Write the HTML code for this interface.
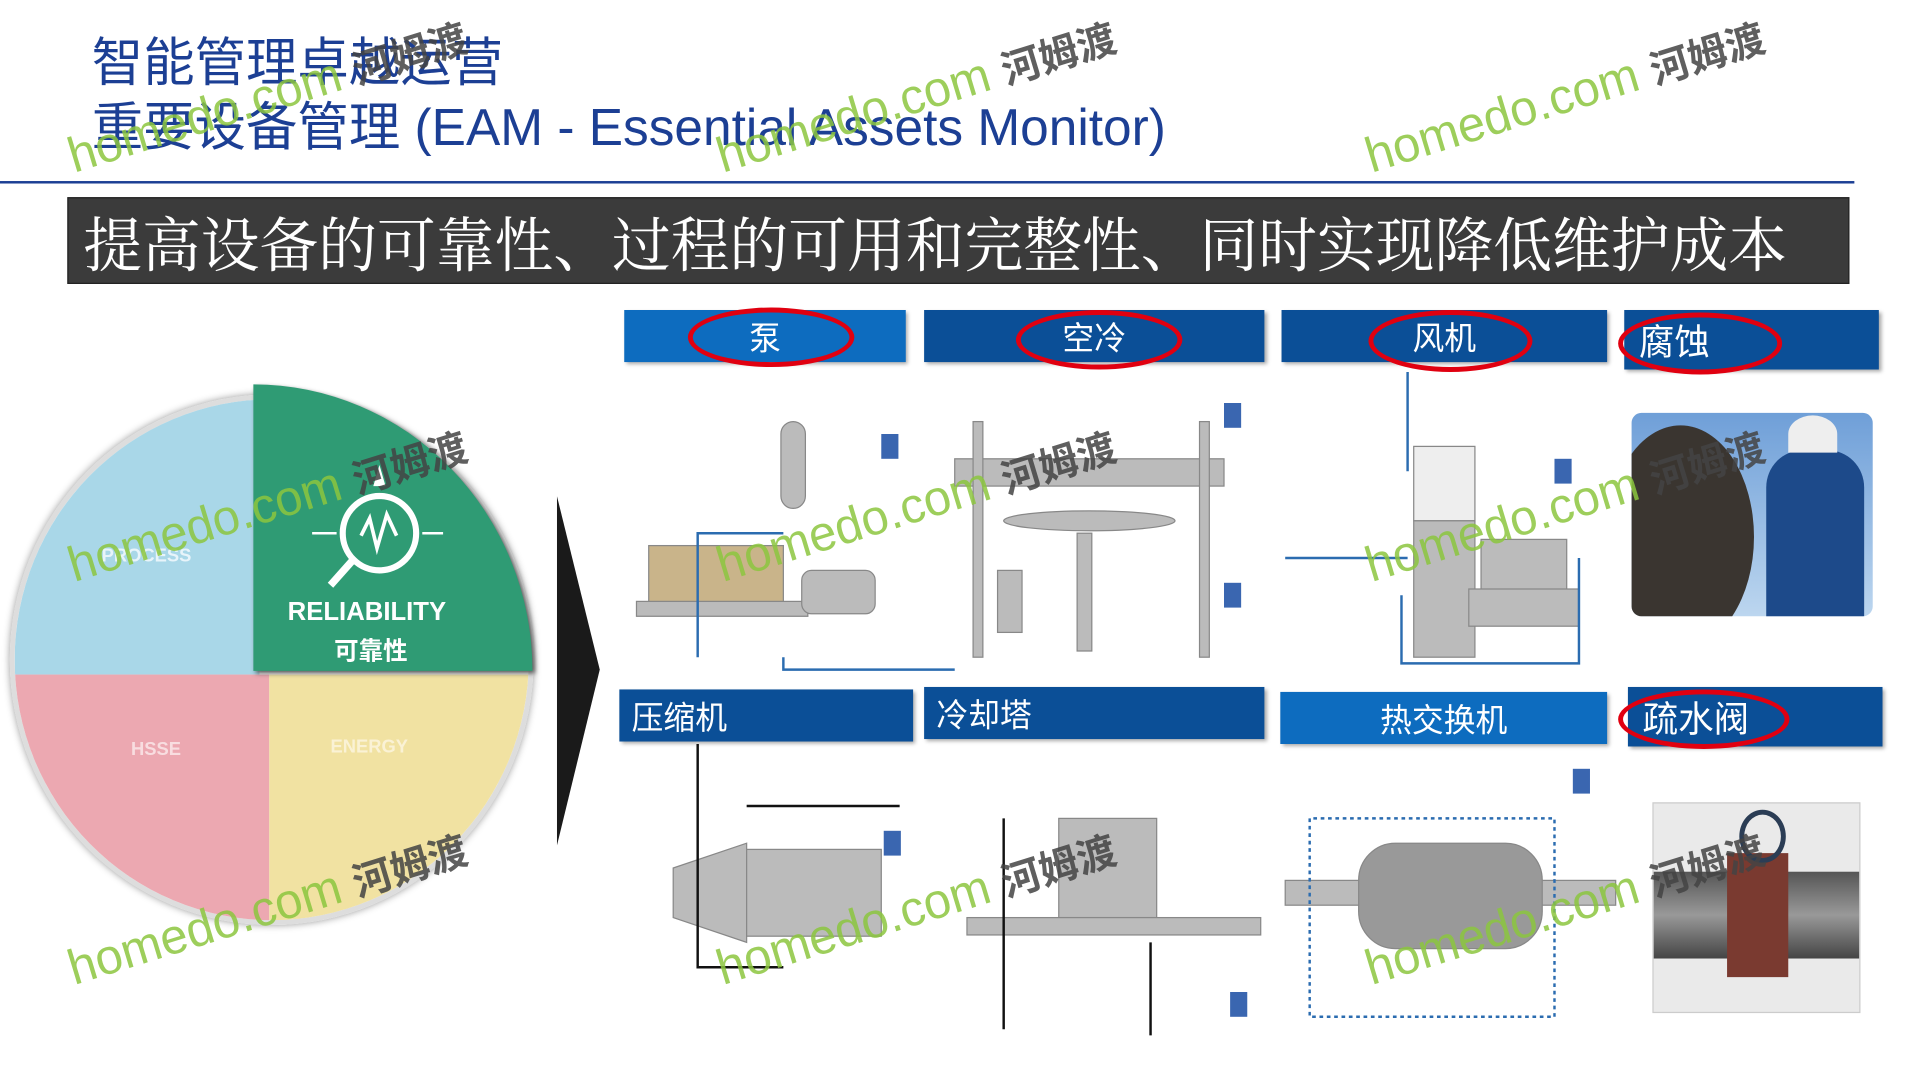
<!DOCTYPE html>
<html><head><meta charset="utf-8"><style>
html,body{margin:0;padding:0;background:#fff;overflow:hidden}
#w{width:1545px;height:870px;position:relative;transform:scale(1.224,1.24);transform-origin:0 0;font-family:"Liberation Sans","Noto Sans CJK SC",sans-serif}
.a{position:absolute}
.t{color:#1c3f94;font-size:42px;line-height:46px;white-space:nowrap}
.hb{position:absolute;color:#fff;font-size:26px;display:flex;align-items:center;justify-content:center;box-shadow:2px 2px 3px #aaa}
.el{position:absolute;border:4px solid #e00010;border-radius:50%}
.wm{position:absolute;font-size:40px;color:#8cc63f;transform:rotate(-17deg);transform-origin:0 0;white-space:nowrap;opacity:.85}
.wm b{color:#444;font-size:32px;font-weight:bold}
</style></head><body><div id="w">
<div class="a t" style="left:75px;top:28px">智能管理卓越运营</div>
<div class="a t" style="left:75px;top:80px">重要设备管理 (EAM - Essential Assets Monitor)</div>
<div class="a" style="left:0;top:146px;width:1515px;height:1.5px;background:#1c3f94"></div>
<div class="a" style="left:55px;top:159px;width:1456px;height:70px;background:#3b3b3b;border:1px solid #222;color:#fff;font-family:'Noto Serif CJK SC',serif;font-size:48px;line-height:70px;padding-left:12px;box-sizing:border-box;white-space:nowrap">提高设备的可靠性、过程的可用和完整性、同时实现降低维护成本</div>

<div class="a" style="left:8px;top:318px;width:420px;height:420px;border-radius:50%;overflow:hidden;border:4px solid #ddd;box-shadow:0 0 6px #999">
 <div class="a" style="left:0;top:0;width:200px;height:222px;background:#a9d7e8"></div>
 <div class="a" style="left:0;top:222px;width:208px;height:200px;background:#eca8b1"></div>
 <div class="a" style="left:208px;top:222px;width:212px;height:200px;background:#f1e2a2"></div>
</div>
<div class="a" style="left:207px;top:310px;width:228px;height:231px;background:#2f9b74;border-top-right-radius:100% 100%;box-shadow:2px 2px 4px #555"></div>
<div class="a" style="left:83px;top:440px;color:#e8f4fa;font-size:15px;font-weight:bold">PROCESS</div>
<div class="a" style="left:107px;top:596px;color:#f8dde0;font-size:15px;font-weight:bold">HSSE</div>
<div class="a" style="left:270px;top:594px;color:#faf2d5;font-size:15px;font-weight:bold">ENERGY</div>
<svg class="a" style="left:250px;top:370px" width="120" height="110"><circle cx="60" cy="60" r="30" fill="none" stroke="#fff" stroke-width="5"/><line x1="38" y1="82" x2="20" y2="102" stroke="#fff" stroke-width="6"/><polyline points="45,62 52,48 58,72 66,45 74,62" fill="none" stroke="#fff" stroke-width="3"/><line x1="5" y1="60" x2="25" y2="60" stroke="#fff" stroke-width="2"/><line x1="95" y1="60" x2="112" y2="60" stroke="#fff" stroke-width="2"/><polygon points="60,5 55,22 65,22" fill="#fff"/></svg>
<div class="a" style="left:235px;top:482px;color:#fff;font-size:21px;font-weight:bold">RELIABILITY</div>
<div class="a" style="left:273px;top:509px;color:#fff;font-size:20px;font-weight:bold">可靠性</div>
<svg class="a" style="left:455px;top:400px" width="40" height="285"><polygon points="0,0 35,140 0,282" fill="#1a1a1a"/></svg>

<div class="hb" style="left:510px;top:250px;width:230px;height:42px;background:#0d6cbf">泵</div>
<div class="hb" style="left:755px;top:250px;width:278px;height:42px;background:#0b4f97">空冷</div>
<div class="hb" style="left:1047px;top:250px;width:266px;height:42px;background:#0b4f97">风机</div>
<div class="hb" style="left:1327px;top:250px;width:208px;height:48px;background:#0b4f97;justify-content:flex-start;padding-left:12px;box-sizing:border-box;font-size:29px">腐蚀</div>
<div class="hb" style="left:506px;top:556px;width:240px;height:42px;background:#0b4f97;justify-content:flex-start;padding-left:10px;box-sizing:border-box">压缩机</div>
<div class="hb" style="left:755px;top:554px;width:278px;height:42px;background:#0b4f97;justify-content:flex-start;padding-left:10px;box-sizing:border-box">冷却塔</div>
<div class="hb" style="left:1046px;top:558px;width:267px;height:42px;background:#0d6cbf">热交换机</div>
<div class="hb" style="left:1330px;top:554px;width:208px;height:48px;background:#0b4f97;justify-content:flex-start;padding-left:12px;box-sizing:border-box;font-size:29px">疏水阀</div>
<div class="el" style="left:562px;top:248px;width:128px;height:40px"></div>
<div class="el" style="left:830px;top:250px;width:128px;height:40px"></div>
<div class="el" style="left:1118px;top:250px;width:126px;height:42px"></div>
<div class="el" style="left:1322px;top:252px;width:126px;height:42px"></div>
<div class="el" style="left:1322px;top:556px;width:132px;height:40px"></div>

<svg class="a" style="left:510px;top:300px" width="1030" height="540">
 <g fill="#bbb" stroke="#888">
  <rect x="20" y="140" width="110" height="50" fill="#c9b48a"/><rect x="10" y="185" width="140" height="12"/>
  <rect x="128" y="40" width="20" height="70" rx="10"/><rect x="145" y="160" width="60" height="35" rx="8"/>
  <rect x="270" y="70" width="220" height="22"/><rect x="285" y="40" width="8" height="190"/><rect x="470" y="40" width="8" height="190"/>
  <ellipse cx="380" cy="120" rx="70" ry="8"/><rect x="305" y="160" width="20" height="50"/><rect x="370" y="130" width="12" height="95"/>
  <rect x="645" y="60" width="50" height="60" fill="#eee"/><rect x="645" y="120" width="50" height="110"/><rect x="700" y="135" width="70" height="50"/><rect x="690" y="175" width="90" height="30"/>
  <polygon points="40,400 100,380 100,460 40,440"/><rect x="100" y="385" width="110" height="70"/>
  <rect x="355" y="360" width="80" height="80"/><rect x="280" y="440" width="240" height="14"/>
  <rect x="540" y="410" width="270" height="20"/><rect x="600" y="380" width="150" height="85" rx="30" fill="#999"/>
 </g>
 <g fill="none" stroke="#2b6cb0" stroke-width="2">
  <path d="M130,230 V240 H270"/><path d="M60,230 V130 H130"/><path d="M640 0 V80"/><path d="M540,150 H640"/><path d="M635,180 V235 H780 V150"/>
  <path d="M560,360 V520 H760 V360 Z" stroke-dasharray="3,3"/><path d="M60,300 V480 H130" stroke="#111"/><path d="M100,350 H225" stroke="#111"/>
  <path d="M310,360 V530" stroke="#111"/><path d="M430,460 V535" stroke="#111"/>
 </g>
 <g fill="#3a66b0"><rect x="210" y="50" width="14" height="20"/><rect x="490" y="25" width="14" height="20"/><rect x="490" y="170" width="14" height="20"/><rect x="760" y="70" width="14" height="20"/><rect x="212" y="370" width="14" height="20"/><rect x="775" y="320" width="14" height="20"/><rect x="495" y="500" width="14" height="20"/></g>
</svg>
<div class="a" style="left:1333px;top:333px;width:197px;height:164px;border-radius:8px;background:linear-gradient(180deg,#6f9fd8,#bcd6ef);overflow:hidden">
 <div class="a" style="left:-20px;top:10px;width:120px;height:180px;border-radius:50%;background:#3a3530"></div>
 <div class="a" style="left:110px;top:30px;width:80px;height:140px;border-radius:30px 30px 0 0;background:#1d4a8a"></div>
 <div class="a" style="left:128px;top:2px;width:40px;height:30px;border-radius:50% 50% 0 0;background:#eee"></div>
</div>
<div class="a" style="left:1350px;top:647px;width:168px;height:168px;background:#eaeaea;border:1px solid #ccc;overflow:hidden">
 <div class="a" style="left:0;top:55px;width:168px;height:70px;background:linear-gradient(#555,#999,#444)"></div>
 <div class="a" style="left:60px;top:40px;width:50px;height:100px;background:#7a3a30"></div>
 <div class="a" style="left:70px;top:5px;width:30px;height:35px;border-radius:50%;border:4px solid #2b3d55"></div>
</div>

<div class="wm" style="left:50px;top:105px">homedo.com <b>河姆渡</b></div>
<div class="wm" style="left:580px;top:105px">homedo.com <b>河姆渡</b></div>
<div class="wm" style="left:1110px;top:105px">homedo.com <b>河姆渡</b></div>
<div class="wm" style="left:50px;top:435px">homedo.com <b>河姆渡</b></div>
<div class="wm" style="left:580px;top:435px">homedo.com <b>河姆渡</b></div>
<div class="wm" style="left:1110px;top:435px">homedo.com <b>河姆渡</b></div>
<div class="wm" style="left:50px;top:760px">homedo.com <b>河姆渡</b></div>
<div class="wm" style="left:580px;top:760px">homedo.com <b>河姆渡</b></div>
<div class="wm" style="left:1110px;top:760px">homedo.com <b>河姆渡</b></div>
</div></body></html>
